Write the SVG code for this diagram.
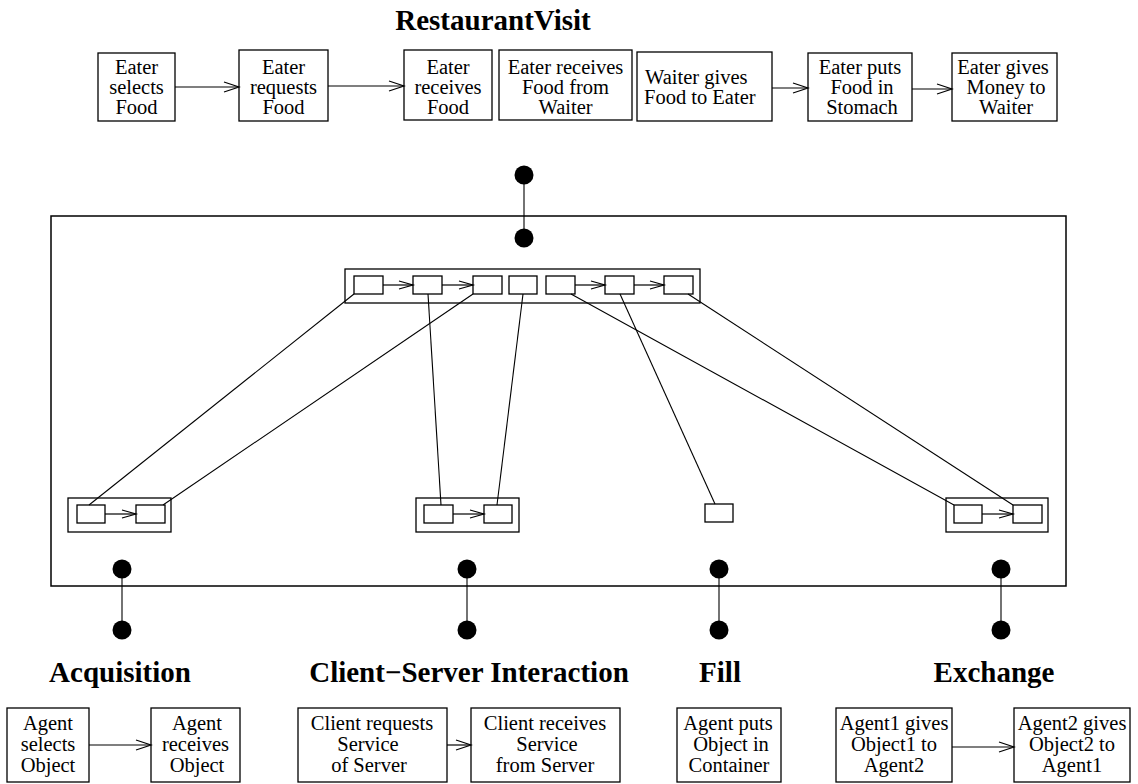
<svg xmlns="http://www.w3.org/2000/svg" width="1138" height="784" viewBox="0 0 1138 784">
  <style>
    .box { fill: #fff; stroke: #000; stroke-width: 1.3; }
    .frame { fill: none; stroke: #000; stroke-width: 1.5; }
    .lbl { font-family: "Liberation Serif", "Times New Roman", serif; font-size: 20.5px; fill: #000; text-anchor: middle; }
    .lbl-l { font-family: "Liberation Serif", "Times New Roman", serif; font-size: 20.5px; fill: #000; text-anchor: start; }
    .title { font-family: "Liberation Serif", "Times New Roman", serif; font-size: 29px; font-weight: bold; fill: #000; text-anchor: middle; }
    .link { stroke: #000; stroke-width: 1.1; fill: none; }
    .arr { stroke: #000; stroke-width: 1.2; fill: none; marker-end: url(#vee); }
    .arrs { stroke: #000; stroke-width: 1.2; fill: none; marker-end: url(#veeS); }
    .dot { fill: #000; }
  </style>
  <defs>
    <marker id="vee" markerUnits="userSpaceOnUse" markerWidth="18" markerHeight="14" refX="16" refY="6" orient="auto">
      <path d="M1,1 L16,6 L1,11" fill="none" stroke="#000" stroke-width="1.2"/>
    </marker>
    <marker id="veeS" markerUnits="userSpaceOnUse" markerWidth="18" markerHeight="12" refX="15" refY="5" orient="auto">
      <path d="M1,1 L15,5 L1,9" fill="none" stroke="#000" stroke-width="1.2"/>
    </marker>
  </defs>

  <!-- RestaurantVisit script -->
  <text class="title" x="493" y="30">RestaurantVisit</text>
  <g id="rv-select"><rect class="box" x="98" y="53" width="77" height="68"/>
    <text class="lbl" x="136.5" y="74">Eater</text><text class="lbl" x="136.5" y="94">selects</text><text class="lbl" x="136.5" y="114">Food</text></g>
  <g id="rv-request"><rect class="box" x="239" y="50" width="89" height="71"/>
    <text class="lbl" x="283.5" y="74">Eater</text><text class="lbl" x="283.5" y="94">requests</text><text class="lbl" x="283.5" y="114">Food</text></g>
  <g id="rv-receive"><rect class="box" x="404" y="50" width="88" height="70"/>
    <text class="lbl" x="448" y="74">Eater</text><text class="lbl" x="448" y="94">receives</text><text class="lbl" x="448" y="114">Food</text></g>
  <g id="rv-receive-from"><rect class="box" x="499" y="50" width="133" height="70"/>
    <text class="lbl" x="565.5" y="74">Eater receives</text><text class="lbl" x="565.5" y="94">Food from</text><text class="lbl" x="565.5" y="114">Waiter</text></g>
  <g id="rv-waiter-gives"><rect class="box" x="637" y="52" width="135" height="69"/>
    <text class="lbl-l" x="645" y="84">Waiter gives</text><text class="lbl-l" x="644" y="104">Food to Eater</text></g>
  <g id="rv-eat"><rect class="box" x="808" y="53" width="104" height="68"/>
    <text class="lbl" x="860" y="74">Eater puts</text><text class="lbl" x="862" y="94">Food in</text><text class="lbl" x="862" y="114">Stomach</text></g>
  <g id="rv-pay"><rect class="box" x="952" y="53" width="105" height="68"/>
    <text class="lbl" x="1003" y="74">Eater gives</text><text class="lbl" x="1006" y="94">Money to</text><text class="lbl" x="1006" y="114">Waiter</text></g>

  <!-- composition frame -->
  <g id="frame">
    <rect class="frame" x="51" y="216" width="1015" height="370"/>
  </g>

  <!-- summary of the top script inside the frame -->
  <g id="summary-top">
    <rect class="box" x="345" y="269" width="355" height="34"/>
    <rect class="box" x="354" y="276" width="29" height="18"/>
    <rect class="box" x="413" y="276" width="29" height="18"/>
    <rect class="box" x="473" y="276" width="29" height="18"/>
    <rect class="box" x="509" y="276" width="28" height="18"/>
    <rect class="box" x="546" y="276" width="29" height="18"/>
    <rect class="box" x="605" y="276" width="29" height="18"/>
    <rect class="box" x="664" y="276" width="29" height="18"/>
  </g>
  <g id="summary-acq">
    <rect class="box" x="68" y="498" width="103" height="34"/>
    <rect class="box" x="77" y="505" width="28" height="18"/>
    <rect class="box" x="136" y="505" width="29" height="18"/>
  </g>
  <g id="summary-cs">
    <rect class="box" x="416" y="498" width="103" height="34"/>
    <rect class="box" x="424" y="505" width="29" height="18"/>
    <rect class="box" x="484" y="505" width="28" height="18"/>
  </g>
  <g id="summary-fill">
    <rect class="box" x="705" y="504" width="28" height="18"/>
  </g>
  <g id="summary-exch">
    <rect class="box" x="946" y="498" width="102" height="34"/>
    <rect class="box" x="954" y="505" width="28" height="18"/>
    <rect class="box" x="1013" y="505" width="29" height="18"/>
  </g>

  <!-- pattern titles -->
  <text class="title" x="120" y="682">Acquisition</text>
  <text class="title" x="469" y="682">Client−Server Interaction</text>
  <text class="title" x="720" y="682">Fill</text>
  <text class="title" x="994" y="682">Exchange</text>

  <!-- pattern scripts -->
  <g id="acq-select"><rect class="box" x="7" y="708" width="82" height="74"/>
    <text class="lbl" x="48" y="730">Agent</text><text class="lbl" x="48" y="751">selects</text><text class="lbl" x="48" y="772">Object</text></g>
  <g id="acq-receive"><rect class="box" x="151" y="708" width="89" height="74"/>
    <text class="lbl" x="197" y="730">Agent</text><text class="lbl" x="195.5" y="751">receives</text><text class="lbl" x="197" y="772">Object</text></g>
  <g id="cs-request"><rect class="box" x="298" y="708" width="149" height="74"/>
    <text class="lbl" x="372" y="730">Client requests</text><text class="lbl" x="368" y="751">Service</text><text class="lbl" x="369" y="772">of Server</text></g>
  <g id="cs-receive"><rect class="box" x="471" y="708" width="149" height="74"/>
    <text class="lbl" x="545" y="730">Client receives</text><text class="lbl" x="547" y="751">Service</text><text class="lbl" x="545" y="772">from Server</text></g>
  <g id="fill-put"><rect class="box" x="677" y="708" width="104" height="74"/>
    <text class="lbl" x="728" y="730">Agent puts</text><text class="lbl" x="731" y="751">Object in</text><text class="lbl" x="729" y="772">Container</text></g>
  <g id="exch-give1"><rect class="box" x="836" y="708" width="116" height="74"/>
    <text class="lbl" x="894" y="730">Agent1 gives</text><text class="lbl" x="894" y="751">Object1 to</text><text class="lbl" x="894" y="772">Agent2</text></g>
  <g id="exch-give2"><rect class="box" x="1014" y="708" width="116" height="74"/>
    <text class="lbl" x="1072" y="730">Agent2 gives</text><text class="lbl" x="1072" y="751">Object2 to</text><text class="lbl" x="1072" y="772">Agent1</text></g>

  <!-- connectors -->
  <g id="connectors">
    <!-- script sequence arrows -->
    <line class="arr" x1="175" y1="87" x2="239" y2="87"/>
    <line class="arr" x1="328" y1="86" x2="404" y2="86"/>
    <line class="arr" x1="772" y1="88" x2="808" y2="88"/>
    <line class="arr" x1="912" y1="89" x2="952" y2="89"/>
    <line class="arr" x1="89" y1="745" x2="151" y2="745"/>
    <line class="arr" x1="447" y1="745" x2="471" y2="745"/>
    <line class="arr" x1="952" y1="747" x2="1014" y2="747"/>
    <!-- summary arrows -->
    <line class="arrs" x1="383" y1="285" x2="413" y2="285"/>
    <line class="arrs" x1="442" y1="285" x2="473" y2="285"/>
    <line class="arrs" x1="575" y1="285" x2="605" y2="285"/>
    <line class="arrs" x1="634" y1="285" x2="664" y2="285"/>
    <line class="arrs" x1="105" y1="514" x2="136" y2="514"/>
    <line class="arrs" x1="453" y1="514" x2="484" y2="514"/>
    <line class="arrs" x1="982" y1="514" x2="1013" y2="514"/>
    <!-- step correspondences -->
    <line class="link" x1="354" y1="294" x2="89" y2="505"/>
    <line class="link" x1="473" y1="294" x2="163" y2="505"/>
    <line class="link" x1="428" y1="294" x2="441" y2="505"/>
    <line class="link" x1="523" y1="294" x2="497" y2="505"/>
    <line class="link" x1="571" y1="294" x2="954" y2="505"/>
    <line class="link" x1="620" y1="294" x2="715" y2="504"/>
    <line class="link" x1="688" y1="294" x2="1013" y2="505"/>
    <!-- attachment stems -->
    <line class="link" x1="524" y1="175" x2="524" y2="238"/>
    <line class="link" x1="122" y1="569" x2="122" y2="630"/>
    <line class="link" x1="467" y1="569" x2="467" y2="630"/>
    <line class="link" x1="719" y1="569" x2="719" y2="630"/>
    <line class="link" x1="1001" y1="569" x2="1001" y2="630"/>
    <circle class="dot" cx="524" cy="175" r="9.5"/>
    <circle class="dot" cx="524" cy="238" r="9.5"/>
    <circle class="dot" cx="122" cy="569" r="9.5"/>
    <circle class="dot" cx="122" cy="630" r="9.5"/>
    <circle class="dot" cx="467" cy="569" r="9.5"/>
    <circle class="dot" cx="467" cy="630" r="9.5"/>
    <circle class="dot" cx="719" cy="569" r="9.5"/>
    <circle class="dot" cx="719" cy="630" r="9.5"/>
    <circle class="dot" cx="1001" cy="569" r="9.5"/>
    <circle class="dot" cx="1001" cy="630" r="9.5"/>
  </g>
</svg>
